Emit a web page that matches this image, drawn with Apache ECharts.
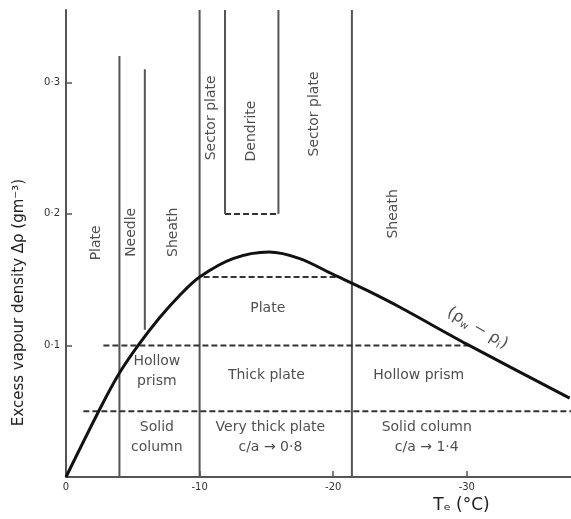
<!DOCTYPE html>
<html>
<head>
<meta charset="utf-8">
<script src="https://cdn.jsdelivr.net/npm/echarts@6/dist/echarts.min.js"></script>
<style>
html,body{margin:0;padding:0;background:#fff;}
#c{width:571px;height:519px;}
</style>
</head>
<body>
<div id="c"></div>
<script>
// ---- data ----
// (rho_w - rho_i) curve: temperature (°C) and excess vapour density (g m^-3)
var curveT = [0, -2.6, -4.0, -5.4, -7.0, -8.5, -10.0, -12.5, -15.2, -17.5, -20.0, -22.5, -25.0, -30.0, -37.7];
var curveV = [0, 0.053, 0.079, 0.100, 0.121, 0.138, 0.152, 0.166, 0.171, 0.166, 0.154, 0.142, 0.129, 0.101, 0.060];

// solid habit boundaries (vertical): temperature, lower and upper density
var vertT    = [-4.0, -5.9, -10.0, -21.4, -11.9, -15.9];
var vertFrom = [0, 0.112, 0, 0, 0.2, 0.2];
var vertTo   = [0.32, 0.31, 0.355, 0.355, 0.355, 0.355];

// dashed boundaries (horizontal): density, start and end temperature
var dashV    = [0.2, 0.152, 0.1, 0.05];
var dashFrom = [-11.9, -10.3, -2.8, -1.3];
var dashTo   = [-15.9, -20.2, -30.2, -37.8];

// habit labels: text, temperature, density, vertical?
var habitText = ['Plate', 'Needle', 'Sheath', 'Sector plate', 'Dendrite', 'Sector plate', 'Sheath',
                 'Plate', 'Hollow\nprism', 'Solid\ncolumn', 'Thick plate', 'Very thick plate\nc/a → 0·8',
                 'Hollow prism', 'Solid column\nc/a → 1·4'];
var habitT = [-2.3, -4.9, -8.0, -10.9, -13.9, -18.6, -24.5, -15.1, -6.8, -6.8, -15.0, -15.3, -26.4, -27.0];
var habitV = [0.178, 0.186, 0.186, 0.273, 0.263, 0.276, 0.200, 0.128, 0.080, 0.030, 0.077, 0.030, 0.077, 0.030];
var habitVertical = [true, true, true, true, true, true, true, false, false, false, false, false, false, false];

var curveName = '(ρ{s|w} − ρ{s|i})';
var curveLabelT = -30.8, curveLabelV = 0.113;

var xTicks = [0, -10, -20, -30];
var yTicks = [0.1, 0.2, 0.3];

// ---- build chart ----
var FONT = 'DejaVu Sans';
var TXT = '#222';
var series = [];

var curveData = curveT.map(function (t, i) { return [t, curveV[i]]; });
series.push({
  type: 'line', data: curveData, smooth: 0.3, showSymbol: false, symbol: 'none',
  lineStyle: { color: '#111', width: 3 }, z: 5
});

vertT.forEach(function (t, i) {
  series.push({
    type: 'line', data: [[t, vertFrom[i]], [t, vertTo[i]]], symbol: 'none',
    lineStyle: { color: '#555', width: 2 }, z: 3
  });
});

dashV.forEach(function (v, i) {
  series.push({
    type: 'line', data: [[dashFrom[i], v], [dashTo[i], v]], symbol: 'none',
    lineStyle: { color: '#333', width: 2, type: [6, 3] }, z: 3
  });
});

var labelData = habitText.map(function (txt, i) {
  return {
    value: [habitT[i], habitV[i]],
    name: txt,
    label: { rotate: habitVertical[i] ? 90 : 0 }
  };
});
labelData.push({
  value: [curveLabelT, curveLabelV],
  name: curveName,
  label: { rotate: -30, fontSize: 16 }
});

series.push({
  type: 'scatter', data: labelData, symbolSize: 0, silent: true, z: 10,
  label: {
    show: true, position: 'inside', formatter: function (p) { return p.name; },
    color: TXT, fontFamily: FONT, fontSize: 14, lineHeight: 20, align: 'center', verticalAlign: 'middle',
    rich: { s: { fontSize: 10, color: TXT, fontFamily: FONT, padding: [9, 0, 0, 0] } }
  }
});

var chart = echarts.init(document.getElementById('c'), null, { renderer: 'canvas' });
chart.setOption({
  animation: false,
  backgroundColor: '#fff',
  grid: { left: 66, right: 0, top: 10, bottom: 42, containLabel: false },
  xAxis: {
    type: 'value', inverse: true, min: -37.8, max: 0,
    name: 'Tₑ (°C)', nameLocation: 'middle', nameGap: 15,
    nameTextStyle: { fontFamily: FONT, fontSize: 17, color: TXT, padding: [0, 0, 0, 286] },
    axisLine: { show: true, lineStyle: { color: '#555', width: 2 } },
    axisTick: { show: true, inside: true, length: 6, customValues: xTicks, lineStyle: { color: '#555', width: 1.5 } },
    axisLabel: { customValues: xTicks, fontFamily: FONT, fontSize: 10, color: '#333', margin: 5,
      formatter: function (v) { return v === 0 ? '0' : String(v); } },
    splitLine: { show: false }
  },
  yAxis: {
    type: 'value', min: 0, max: 0.355,
    name: 'Excess vapour density Δρ (gm⁻³)', nameLocation: 'middle', nameRotate: 90, nameGap: 39,
    nameTextStyle: { fontFamily: FONT, fontSize: 15, color: TXT, padding: [0, 118, 0, 0] },
    axisLine: { show: true, lineStyle: { color: '#555', width: 2 } },
    axisTick: { show: true, inside: true, length: 6, customValues: yTicks, lineStyle: { color: '#555', width: 1.5 } },
    axisLabel: { customValues: yTicks, fontFamily: FONT, fontSize: 10, color: '#333', margin: 6,
      formatter: function (v) { return v.toFixed(1).replace('.', '·'); } },
    splitLine: { show: false }
  },
  series: series
});
</script>
</body>
</html>
